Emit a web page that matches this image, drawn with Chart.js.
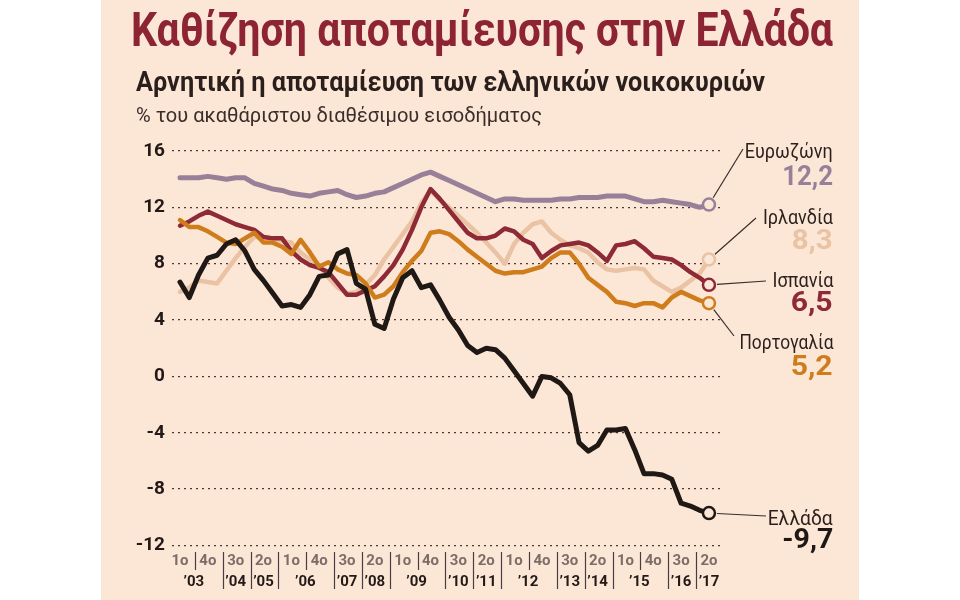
<!DOCTYPE html>
<html><head><meta charset="utf-8">
<script src="https://cdn.jsdelivr.net/npm/chart.js@4.4.1/dist/chart.umd.min.js"></script>
<style>
html,body{margin:0;padding:0;background:#fff;width:960px;height:600px;overflow:hidden;font-family:Roboto,'Noto Sans',sans-serif;}
#panel{position:absolute;left:101px;top:0;width:758px;height:600px;background:#fce7d7;}
#c{position:absolute;left:0;top:0;}
.t{position:absolute;white-space:nowrap;line-height:1;transform-origin:0 0;}
#title{left:131px;top:6px;font-size:48px;font-weight:700;color:#8c2434;}
#sub{left:136px;top:68px;font-size:28px;font-weight:700;color:#2a1f1c;}
#sub2{left:136px;top:105px;font-size:21px;font-weight:400;color:#3a2d2a;}
.lab{position:absolute;white-space:nowrap;line-height:1;right:127px;transform-origin:100% 0;}
</style></head>
<body>
<div id="panel"></div>
<canvas id="c" width="960" height="600"></canvas>
<div class="t" id="title">Καθίζηση αποταμίευσης στην Ελλάδα</div>
<div class="t" id="sub">Αρνητική η αποταμίευση των ελληνικών νοικοκυριών</div>
<div class="t" id="sub2">% του ακαθάριστου διαθέσιμου εισοδήματος</div>
<script>
// ---- DATA ----
const categories = ['1/03','2/03','3/03','4/03','1/04','2/04','3/04','4/04','1/05','2/05','3/05','4/05',
 '1/06','2/06','3/06','4/06','1/07','2/07','3/07','4/07','1/08','2/08','3/08','4/08',
 '1/09','2/09','3/09','4/09','1/10','2/10','3/10','4/10','1/11','2/11','3/11','4/11',
 '1/12','2/12','3/12','4/12','1/13','2/13','3/13','4/13','1/14','2/14','3/14','4/14',
 '1/15','2/15','3/15','4/15','1/16','2/16','3/16','4/16','1/17','2/17'];
const eurozone = [14.1,14.1,14.1,14.2,14.1,14.0,14.1,14.1,13.7,13.5,13.3,13.2,
 13.0,12.9,12.8,13.0,13.1,13.2,12.9,12.7,12.8,13.0,13.1,13.4,
 13.7,14.0,14.3,14.5,14.2,13.9,13.6,13.3,13.0,12.7,12.4,12.6,
 12.6,12.5,12.5,12.5,12.5,12.6,12.6,12.7,12.7,12.7,12.8,12.8,
 12.8,12.6,12.4,12.4,12.5,12.4,12.3,12.2,12.0,12.2];
const ireland = [6.0,6.3,6.8,6.7,6.6,7.5,8.4,9.2,9.9,9.9,9.8,9.6,
 9.5,8.8,8.3,7.9,7.0,6.3,5.9,6.0,6.5,7.2,8.3,9.2,
 10.1,11.0,12.3,13.2,12.5,12.0,11.4,10.8,10.2,9.5,8.8,8.0,
 9.4,10.2,10.8,11.0,10.2,9.7,9.3,9.1,8.8,8.1,7.6,7.5,
 7.6,7.7,7.6,6.8,6.4,6.0,6.3,6.8,7.3,8.3];
const spain = [10.7,11.0,11.4,11.7,11.4,11.1,10.8,10.6,10.4,9.9,9.8,9.8,
 8.9,8.3,7.9,7.7,7.4,6.6,5.8,5.8,6.1,6.4,7.1,7.9,
 9.0,10.4,12.0,13.3,12.6,11.8,11.0,10.2,9.8,9.8,10.0,10.5,
 10.3,9.7,9.4,8.4,8.9,9.3,9.4,9.5,9.3,8.8,8.2,9.3,
 9.4,9.6,9.1,8.5,8.4,8.3,7.9,7.4,7.0,6.5];
const portugal = [11.1,10.6,10.6,10.3,9.9,9.5,9.4,9.8,10.2,9.5,9.5,9.2,
 8.7,9.7,8.8,7.8,8.1,7.6,7.3,7.2,6.6,5.6,5.8,6.4,
 7.4,8.2,8.9,10.2,10.3,10.1,9.6,9.0,8.5,8.0,7.5,7.3,
 7.4,7.4,7.6,7.8,8.4,8.8,8.8,8.0,7.0,6.5,6.0,5.3,
 5.2,5.0,5.2,5.2,4.9,5.6,6.0,5.7,5.4,5.2];
const greece = [6.7,5.6,7.2,8.4,8.6,9.4,9.7,8.9,7.6,6.8,5.9,5.0,
 5.1,4.9,5.8,7.1,7.2,8.7,9.0,6.6,6.2,3.7,3.4,5.5,
 7.0,7.5,6.3,6.5,5.4,4.2,3.3,2.2,1.7,2.0,1.9,1.3,
 0.4,-0.5,-1.4,0.0,-0.1,-0.5,-1.3,-4.7,-5.3,-4.9,-3.8,-3.8,
 -3.7,-5.2,-6.9,-6.9,-7.0,-7.3,-9.0,-9.2,-9.5,-9.7];
const tickCats = ['1/03','4/03','3/04','2/05','1/06','4/06','3/07','2/08','1/09','4/09',
 '3/10','2/11','1/12','4/12','3/13','2/14','1/15','4/15','3/16','2/17'];
const seriesNames = ['Ευρωζώνη','Ιρλανδία','Ισπανία','Πορτογαλία','Ελλάδα'];
const seriesData = [eurozone, ireland, spain, portugal, greece];

// ---- STYLE / LAYOUT ----
const PEACH = '#fce7d7';
const colors = ['#9a7f98','#e9c3a3','#8d2a35','#cf7d1c','#1f1815'];
const widths = [5,4.5,4.5,4.5,5];
const orders = [4,3,2,1,0];
// label layout: name baseline, value baseline, name width, leader anchor
const labLayout = [
  {nb:158, vb:186, nw:88, vw:51, ax:743, ay:149},
  {nb:224, vb:250, nw:70, vw:41, ax:756, ay:218},
  {nb:287, vb:312, nw:61, vw:42, ax:766, ay:281},
  {nb:349, vb:376, nw:94, vw:42, ax:734, ay:336},
  {nb:525, vb:549, nw:65, vw:51, ax:766, ay:516}
];
const FONT = 'Roboto, "Noto Sans", sans-serif';

function fitW(el, w){
  const r = el.getBoundingClientRect().width;
  if (r > 0) el.style.transform = 'scaleX(' + (w / r) + ')';
}
fitW(document.getElementById('title'), 702);
fitW(document.getElementById('sub'), 629);
fitW(document.getElementById('sub2'), 406);

seriesNames.forEach((n, k) => {
  const L = labLayout[k];
  const a = document.createElement('div');
  a.className = 'lab'; a.textContent = n;
  a.style.fontSize = '20px'; a.style.color = '#2a1f1c';
  a.style.top = (L.nb - 0.8415 * 20) + 'px';
  document.body.appendChild(a); fitW(a, L.nw);
  const b = document.createElement('div');
  b.className = 'lab';
  const v = seriesData[k][seriesData[k].length - 1];
  b.textContent = v.toFixed(1).replace('.', ',');
  b.style.fontSize = '27px'; b.style.fontWeight = '700'; b.style.color = colors[k];
  b.style.top = (L.vb - 0.8415 * 27) + 'px';
  document.body.appendChild(b); fitW(b, L.vw);
});

const overlay = {
  id: 'overlay',
  afterDraw(chart) {
    const ctx = chart.ctx, xs = chart.scales.x, ys = chart.scales.y;
    ctx.save();
    // leader lines
    ctx.strokeStyle = '#3a2d2a'; ctx.lineWidth = 1.2;
    seriesData.forEach((d, k) => {
      const meta = chart.getDatasetMeta(k);
      const pt = meta.data[d.length - 1];
      const L = labLayout[k];
      const dx = L.ax - pt.x, dy = L.ay - pt.y, len = Math.hypot(dx, dy);
      const r = 8;
      ctx.beginPath();
      ctx.moveTo(pt.x + dx / len * r, pt.y + dy / len * r);
      ctx.lineTo(L.ax, L.ay);
      ctx.stroke();
    });
    // x axis labels
    const ticks = tickCats.map(c => ({i: categories.indexOf(c), q: c[0] + 'ο', y: '’' + c.slice(2)}));
    ctx.textAlign = 'center'; ctx.textBaseline = 'middle';
    ctx.font = 'bold 15px ' + FONT;
    ctx.fillStyle = '#7d6c68';
    ticks.forEach(t => ctx.fillText(t.q, xs.getPixelForValue(t.i), 561));
    // separators
    ctx.strokeStyle = '#4a3c44'; ctx.lineWidth = 1.2;
    for (let k = 0; k < ticks.length - 1; k++) {
      const x = (xs.getPixelForValue(ticks[k].i) + xs.getPixelForValue(ticks[k + 1].i)) / 2 + 1;
      const long = ticks[k].y !== ticks[k + 1].y;
      ctx.beginPath();
      ctx.moveTo(Math.round(x) + 0.5, 552);
      ctx.lineTo(Math.round(x) + 0.5, long ? 589 : 570);
      ctx.stroke();
    }
    // years
    ctx.fillStyle = '#231a17';
    const groups = [];
    ticks.forEach(t => {
      const g = groups.find(g => g.y === t.y);
      if (g) g.xs.push(xs.getPixelForValue(t.i)); else groups.push({y: t.y, xs: [xs.getPixelForValue(t.i)]});
    });
    groups.forEach(g => {
      const cx = g.xs.reduce((a, b) => a + b, 0) / g.xs.length;
      ctx.fillText(g.y, cx, 582);
    });
    ctx.restore();
  }
};

new Chart(document.getElementById('c'), {
  type: 'line',
  data: {
    datasets: seriesData.map((d, k) => ({
      label: seriesNames[k],
      data: d.map((v, i) => ({x: i, y: v})),
      borderColor: colors[k],
      borderWidth: widths[k],
      borderJoinStyle: 'round',
      borderCapStyle: 'round',
      tension: 0,
      fill: false,
      order: orders[k],
      pointRadius: c => c.dataIndex === d.length - 1 ? 6 : 0,
      pointHoverRadius: c => c.dataIndex === d.length - 1 ? 6 : 0,
      pointBorderWidth: 2.5,
      pointBackgroundColor: PEACH,
      pointBorderColor: colors[k]
    }))
  },
  options: {
    responsive: false,
    animation: false,
    devicePixelRatio: 1,
    layout: {padding: {left: 100, right: 240, top: 151, bottom: 54.5}},
    plugins: {legend: {display: false}, tooltip: {enabled: false}},
    scales: {
      x: {type: 'linear', min: -0.86, max: 58.19, display: false},
      y: {
        min: -12, max: 16,
        ticks: {stepSize: 4, color: '#231a17', padding: 7, font: {family: FONT, weight: 'bold', size: 19}},
        grid: {color: '#4a3a36', lineWidth: 1.3, drawTicks: false},
        border: {display: false, dash: [2, 4]},
        afterFit(s) { s.width = 72; }
      }
    }
  },
  plugins: [overlay]
});
</script>
</body></html>
